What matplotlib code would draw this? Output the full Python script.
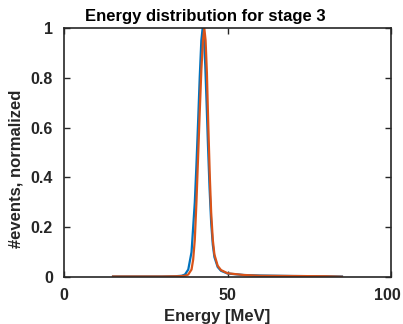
import numpy as np
import matplotlib.pyplot as plt
from matplotlib.transforms import ScaledTranslation

plt.rcParams['font.family'] = ['Liberation Sans', 'DejaVu Sans']

# stage 3 energy spectra
energy_a = [15, 20, 25, 30, 34, 36, 37, 38, 39, 40, 40.5, 41, 41.5, 42, 42.4,
            42.8, 43.2, 43.6, 44, 44.5, 45, 45.5, 46, 47, 48, 50, 55, 60, 70, 80, 85]
counts_a = [0.002, 0.002, 0.002, 0.002, 0.003, 0.005, 0.01, 0.03, 0.1, 0.3, 0.45,
            0.62, 0.8, 0.95, 1.0, 0.96, 0.85, 0.7, 0.54, 0.36, 0.22, 0.13, 0.08,
            0.04, 0.025, 0.014, 0.008, 0.006, 0.004, 0.003, 0.002]

energy_b = [15, 20, 25, 30, 35, 37, 38, 39, 39.5, 40, 40.5, 41, 41.5, 42, 42.5,
            42.9, 43.3, 43.7, 44.1, 44.6, 45, 45.5, 46, 47, 48, 50, 55, 60, 70, 80, 85]
counts_b = [0.002, 0.002, 0.002, 0.002, 0.003, 0.005, 0.01, 0.03, 0.07, 0.15, 0.3,
            0.48, 0.66, 0.83, 0.95, 1.0, 0.95, 0.82, 0.62, 0.4, 0.26, 0.15, 0.09,
            0.045, 0.028, 0.015, 0.008, 0.005, 0.004, 0.003, 0.001]

fig = plt.figure(figsize=(4.03, 3.24), dpi=100)
ax = fig.add_axes([64/403, 47/324, 327/403, 249/324])

ax.plot(energy_a, counts_a, color='#0072BD', lw=1.6)
ax.plot(energy_b, counts_b, color='#D95319', lw=1.6)

ax.set_xlim(0, 100)
ax.set_ylim(0, 1)
ax.set_xticks([0, 50, 100])
ax.set_yticks([0, 0.2, 0.4, 0.6, 0.8, 1])
ax.set_yticklabels(['0', '0.2', '0.4', '0.6', '0.8', '1'])
ax.tick_params(direction='in', top=True, right=True, length=4, width=1,
               colors='#262626', labelsize=11.5)
ax.tick_params(axis='x', pad=8)
ax.tick_params(axis='y', pad=8)
for lbl in ax.get_xticklabels() + ax.get_yticklabels():
    lbl.set_fontweight('bold')
# last x label sits a bit left of its tick, like in the original
last = ax.get_xticklabels()[-1]
last.set_transform(last.get_transform() + ScaledTranslation(-0.035, 0, fig.dpi_scale_trans))
for s in ax.spines.values():
    s.set_color('#262626')
    s.set_linewidth(1.2)

ax.set_xlabel('Energy [MeV]', fontsize=12, fontweight='bold', color='#262626', labelpad=1)
ax.xaxis.set_label_coords(0.468, -0.13)
ax.set_ylabel('#events, normalized', fontsize=12, fontweight='bold', color='#262626')
ax.yaxis.set_label_coords(-0.123, 0.436)
ax.set_title('Energy distribution for stage 3', fontsize=12, fontweight='bold',
             x=0.431, pad=5)

fig.savefig('out.png', dpi=100)
